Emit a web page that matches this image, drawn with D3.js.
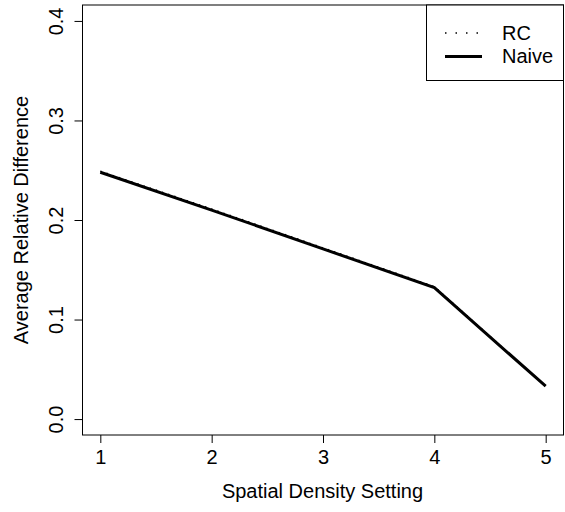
<!DOCTYPE html>
<html>
<head>
<meta charset="utf-8">
<script src="https://cdn.jsdelivr.net/npm/d3@7"></script>
<style>
  body { margin: 0; background: #fff; }
  text { font-family: "Liberation Sans", Arial, sans-serif; fill: #000; }
</style>
</head>
<body>
<div id="chart"></div>
<script>
// data
var settings = [1, 2, 3, 4, 5];
var rcValues = [0.249, 0.211, 0.172, 0.133, 0.033];
var naiveValues = [0.248, 0.210, 0.171, 0.132, 0.033];
var xTicks = [1, 2, 3, 4, 5];
var yTicks = [0.0, 0.1, 0.2, 0.3, 0.4];
var seriesNames = ["RC", "Naive"];

var width = 565, height = 512;
var box = {left: 82.5, right: 563.5, top: 5, bottom: 435};
var fs = 20;

var svg = d3.select("#chart")
  .append("svg")
    .attr("width", width)
    .attr("height", height);

// R style 4% padding
var x = d3.scaleLinear().domain([0.84, 5.16]).range([box.left, box.right]);
var y = d3.scaleLinear().domain([-0.016, 0.416]).range([box.bottom, box.top]);

// plot box
svg.append("rect")
  .attr("x", box.left).attr("y", box.top)
  .attr("width", box.right - box.left).attr("height", box.bottom - box.top)
  .attr("fill", "none").attr("stroke", "#000").attr("stroke-width", 1);

// x axis
var xAxis = d3.axisBottom(x).tickValues(xTicks).tickSize(8).tickFormat(d3.format("d"));
var gx = svg.append("g")
  .attr("transform", "translate(0," + box.bottom + ")")
  .call(xAxis);
gx.select(".domain").remove();
gx.selectAll("text").attr("font-size", fs).attr("y", 29).attr("dy", null)
  .style("font-family", "Liberation Sans, Arial, sans-serif");

// y axis
var yAxis = d3.axisLeft(y).tickValues(yTicks).tickSize(8).tickFormat(d3.format(".1f"));
var gy = svg.append("g")
  .attr("transform", "translate(" + box.left + ",0)")
  .call(yAxis);
gy.select(".domain").remove();
gy.selectAll(".tick text")
  .attr("font-size", fs)
  .attr("x", null).attr("dy", null)
  .attr("text-anchor", "middle")
  .attr("transform", "translate(-19.5,0) rotate(-90)")
  .style("font-family", "Liberation Sans, Arial, sans-serif");

// axis titles
svg.append("text")
  .attr("x", (box.left + box.right) / 2 - 0.5)
  .attr("y", 498)
  .attr("text-anchor", "middle")
  .attr("font-size", fs)
  .text("Spatial Density Setting");

svg.append("text")
  .attr("transform", "translate(28," + ((box.top + box.bottom) / 2) + ") rotate(-90)")
  .attr("text-anchor", "middle")
  .attr("font-size", fs)
  .text("Average Relative Difference");

// lines
var line = d3.line()
  .x(function (d, i) { return x(settings[i]); })
  .y(function (d) { return y(d); });

svg.append("path")
  .datum(naiveValues)
  .attr("d", line)
  .attr("fill", "none")
  .attr("stroke", "#000")
  .attr("stroke-width", 3);

svg.append("path")
  .datum(rcValues)
  .attr("d", line)
  .attr("fill", "none")
  .attr("stroke", "#000")
  .attr("stroke-width", 1.5)
  .attr("stroke-dasharray", "1.5,5");

// legend
var legend = svg.append("g");
legend.append("rect")
  .attr("x", 426.5).attr("y", box.top)
  .attr("width", box.right - 426.5).attr("height", 80.5 - box.top)
  .attr("fill", "#fff").attr("stroke", "#000");

seriesNames.forEach(function (name, i) {
  var ly = 33 + i * 23.5;
  legend.append("line")
    .attr("x1", 445).attr("x2", 482)
    .attr("y1", ly).attr("y2", ly)
    .attr("stroke", "#000")
    .attr("stroke-width", i === 0 ? 1.5 : 3)
    .attr("stroke-dasharray", i === 0 ? "1.5,9" : null);
  legend.append("text")
    .attr("x", 502).attr("y", ly + 6.5)
    .attr("font-size", fs)
    .text(name);
});
</script>
</body>
</html>
